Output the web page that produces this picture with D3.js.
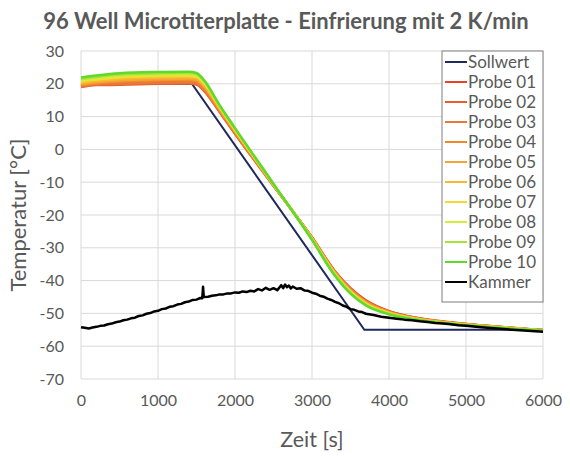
<!DOCTYPE html>
<html>
<head>
<meta charset="utf-8">
<script src="https://cdn.jsdelivr.net/npm/d3@7"></script>
<style>
  body { margin: 0; background: #fff; }
  text { font-family: Lato, "Open Sans", sans-serif; fill: #595959; }
</style>
</head>
<body>
<div class="canvas"></div>
<script>
// data
const xTicks = [0, 1000, 2000, 3000, 4000, 5000, 6000];
const yTicks = [30, 20, 10, 0, -10, -20, -30, -40, -50, -60, -70];

const sollTimes = [0, 1440, 3680, 6000];
const sollValues = [20, 20, -55, -55];

const probeTimes = [0, 200, 500, 1000, 1400, 1500, 1600, 1800, 2000, 2500, 3000, 3300, 3500, 3700, 4000, 4400, 5000, 5500, 6000];
const probeNames = ['Probe 01', 'Probe 02', 'Probe 03', 'Probe 04', 'Probe 05', 'Probe 06', 'Probe 07', 'Probe 08', 'Probe 09', 'Probe 10'];
const probe01 = [19.5, 20.1, 20.3, 20.6, 20.7, 20.4, 18.4, 11.6, 4.9, -11.1, -26.8, -37.2, -42.3, -46.0, -49.3, -51.5, -53.2, -54.2, -55.1];
const probe02 = [19.0, 19.6, 19.7, 20.0, 20.1, 19.8, 17.8, 11.4, 4.8, -11.1, -26.9, -37.3, -42.5, -46.2, -49.4, -51.6, -53.2, -54.2, -55.1];
const probe03 = [19.2, 19.8, 20.0, 20.3, 20.4, 20.1, 18.1, 11.6, 5.0, -11.0, -26.9, -37.4, -42.6, -46.3, -49.5, -51.6, -53.3, -54.3, -55.1];
const probe04 = [19.6, 20.2, 20.6, 21.0, 21.1, 20.8, 18.7, 12.0, 5.3, -10.9, -27.0, -37.5, -42.8, -46.5, -49.6, -51.7, -53.3, -54.3, -55.2];
const probe05 = [19.9, 20.5, 21.0, 21.4, 21.5, 21.2, 19.2, 12.3, 5.6, -10.8, -27.1, -37.7, -43.0, -46.7, -49.7, -51.8, -53.4, -54.3, -55.2];
const probe06 = [20.3, 20.9, 21.5, 21.9, 22.0, 21.7, 19.7, 12.6, 5.8, -10.8, -27.2, -37.9, -43.2, -46.9, -49.8, -51.8, -53.4, -54.4, -55.2];
const probe07 = [20.7, 21.3, 21.9, 22.3, 22.4, 22.1, 20.1, 12.9, 6.0, -10.7, -27.3, -38.1, -43.4, -47.1, -49.9, -51.9, -53.5, -54.4, -55.2];
const probe08 = [21.1, 21.7, 22.4, 22.8, 22.9, 22.6, 20.5, 13.1, 6.2, -10.6, -27.4, -38.3, -43.6, -47.3, -50.0, -52.0, -53.5, -54.4, -55.3];
const probe09 = [21.5, 22.1, 22.8, 23.2, 23.3, 23.0, 20.8, 13.3, 6.4, -10.6, -27.5, -38.4, -43.8, -47.4, -50.1, -52.0, -53.6, -54.5, -55.3];
const probe10 = [21.9, 22.5, 23.2, 23.6, 23.7, 23.3, 21.1, 13.5, 6.5, -10.5, -27.6, -38.6, -44.0, -47.6, -50.3, -52.1, -53.6, -54.5, -55.3];
const probeValues = [probe01, probe02, probe03, probe04, probe05, probe06, probe07, probe08, probe09, probe10];
const probeColors = ['#e8412c', '#ec5b2c', '#e8783a', '#f0882c', '#f4a43a', '#f7b92e', '#f2dc32', '#d4ec3c', '#a4e23c', '#5fd92c'];

const kammerTimes = [0, 50, 100, 150, 200, 250, 300, 350, 400, 450, 500, 550, 600, 650, 700, 750, 800, 850, 900, 950,
    1000, 1050, 1100, 1150, 1200, 1250, 1300, 1350, 1400, 1450, 1500, 1550, 1575, 1585, 1595, 1650, 1700, 1750, 1800, 1850,
    1900, 1950, 2000, 2050, 2100, 2150, 2200, 2250, 2300, 2350, 2400, 2450, 2500, 2550, 2600, 2625, 2650, 2675, 2700, 2725,
    2750, 2800, 2850, 2900, 2950, 3000, 3050, 3100, 3150, 3200, 3250, 3300, 3350, 3400, 3450, 3500, 3550, 3600, 3650, 3700,
    3800, 3900, 4000, 4100, 4200, 4300, 4400, 4500, 4600, 4700, 4800, 4900, 5000, 5200, 5400, 5600, 5800, 6000];
const kammerValues = [-54.2, -54.4, -54.6, -54.3, -54.1, -53.8, -53.7, -53.3, -53.1, -52.7, -52.5, -52.1, -51.9, -51.5, -51.3, -50.8, -50.6, -50.1, -49.9, -49.4,
    -49.2, -48.7, -48.5, -48.0, -47.8, -47.3, -47.1, -46.6, -46.4, -45.9, -45.8, -45.3, -45.4, -41.9, -45.0, -44.9, -44.6, -44.5, -44.2, -44.2,
    -43.9, -43.9, -43.6, -43.7, -43.3, -43.5, -43.1, -43.3, -42.6, -43.0, -42.2, -42.8, -42.3, -42.9, -41.4, -42.3, -41.2, -42.0, -41.5, -42.4,
    -41.8, -42.5, -42.3, -43.0, -43.1, -43.7, -44.0, -44.6, -44.9, -45.5, -45.9, -46.5, -46.9, -47.6, -48.0, -48.7, -48.9, -49.4, -49.6, -50.1,
    -50.5, -51.0, -51.3, -51.6, -51.9, -52.1, -52.4, -52.6, -52.9, -53.1, -53.3, -53.6, -53.8, -54.2, -54.6, -55.0, -55.3, -55.6];

const width = 570, height = 456;
const margin = { left: 81, top: 51, right: 27, bottom: 77 };
const graphWidth = width - margin.left - margin.right;
const graphHeight = height - margin.top - margin.bottom;

const svg = d3.select('.canvas').append('svg')
    .attr('width', width)
    .attr('height', height);

const graph = svg.append('g')
    .attr('transform', `translate(${margin.left},${margin.top})`);

// scales
const x = d3.scaleLinear().domain([0, 6000]).range([0, graphWidth]);
const y = d3.scaleLinear().domain([-70, 30]).range([graphHeight, 0]);

// grid
graph.append('g').selectAll('line.h')
    .data(yTicks).enter().append('line')
    .attr('x1', 0).attr('x2', graphWidth)
    .attr('y1', d => y(d)).attr('y2', d => y(d))
    .attr('stroke', '#d9d9d9').attr('stroke-width', 1);
graph.append('g').selectAll('line.v')
    .data(xTicks).enter().append('line')
    .attr('y1', 0).attr('y2', graphHeight)
    .attr('x1', d => x(d)).attr('x2', d => x(d))
    .attr('stroke', '#d9d9d9').attr('stroke-width', 1);

// axes (labels only), plain hyphen for negatives like the original
const xAxis = d3.axisBottom(x).tickValues(xTicks).tickSize(0).tickPadding(16)
    .tickFormat(d => String(d));
const yAxis = d3.axisLeft(y).tickValues(yTicks).tickSize(0).tickPadding(17)
    .tickFormat(d => String(d));

const xAxisGroup = graph.append('g')
    .attr('transform', `translate(0,${graphHeight})`)
    .call(xAxis);
const yAxisGroup = graph.append('g').call(yAxis);
[xAxisGroup, yAxisGroup].forEach(g => {
    g.select('.domain').remove();
    g.selectAll('text').attr('font-size', 16).attr('fill', '#595959')
        .style('font-family', 'Lato, "Open Sans", sans-serif');
});

// lines
const lineOf = (times, curve) => d3.line()
    .x((d, i) => x(times[i]))
    .y(d => y(d))
    .curve(curve);

graph.append('path')
    .attr('d', lineOf(sollTimes, d3.curveLinear)(sollValues))
    .attr('fill', 'none')
    .attr('stroke', '#1f2a5c')
    .attr('stroke-width', 2);

graph.selectAll('path.probe')
    .data(probeValues).enter().append('path')
    .attr('class', 'probe')
    .attr('d', d => lineOf(probeTimes, d3.curveMonotoneX)(d))
    .attr('fill', 'none')
    .attr('stroke', (d, i) => probeColors[i])
    .attr('stroke-width', 2.5);

graph.append('path')
    .attr('d', lineOf(kammerTimes, d3.curveLinear)(kammerValues))
    .attr('fill', 'none')
    .attr('stroke', '#000')
    .attr('stroke-width', 2.5)
    .attr('stroke-linejoin', 'round');

// legend
const legendNames = ['Sollwert', ...probeNames, 'Kammer'];
const legendColors = ['#1f2a5c', ...probeColors, '#000'];
const legend = svg.append('g').attr('transform', 'translate(442,51)');
legend.append('rect')
    .attr('width', 101).attr('height', 251)
    .attr('fill', '#fff').attr('stroke', '#7f7f7f').attr('stroke-width', 1);
const items = legend.selectAll('g.item')
    .data(legendNames).enter().append('g')
    .attr('transform', (d, i) => `translate(0,${11 + i * 20})`);
items.append('line')
    .attr('x1', 3).attr('x2', 25)
    .attr('stroke', (d, i) => legendColors[i])
    .attr('stroke-width', 2);
items.append('text')
    .attr('x', 26).attr('dy', '0.35em')
    .attr('font-size', 17)
    .text(d => d);

// titles
svg.append('text')
    .attr('x', 286).attr('y', 29)
    .attr('text-anchor', 'middle')
    .attr('font-size', 22).attr('font-weight', 'bold')
    .text('96 Well Microtiterplatte - Einfrierung mit 2 K/min');

svg.append('text')
    .attr('x', 312).attr('y', 447)
    .attr('text-anchor', 'middle')
    .attr('font-size', 21.5)
    .text('Zeit [s]');

svg.append('text')
    .attr('transform', `translate(26,${margin.top + graphHeight / 2}) rotate(-90)`)
    .attr('text-anchor', 'middle')
    .attr('font-size', 22)
    .text('Temperatur [°C]');
</script>
</body>
</html>
